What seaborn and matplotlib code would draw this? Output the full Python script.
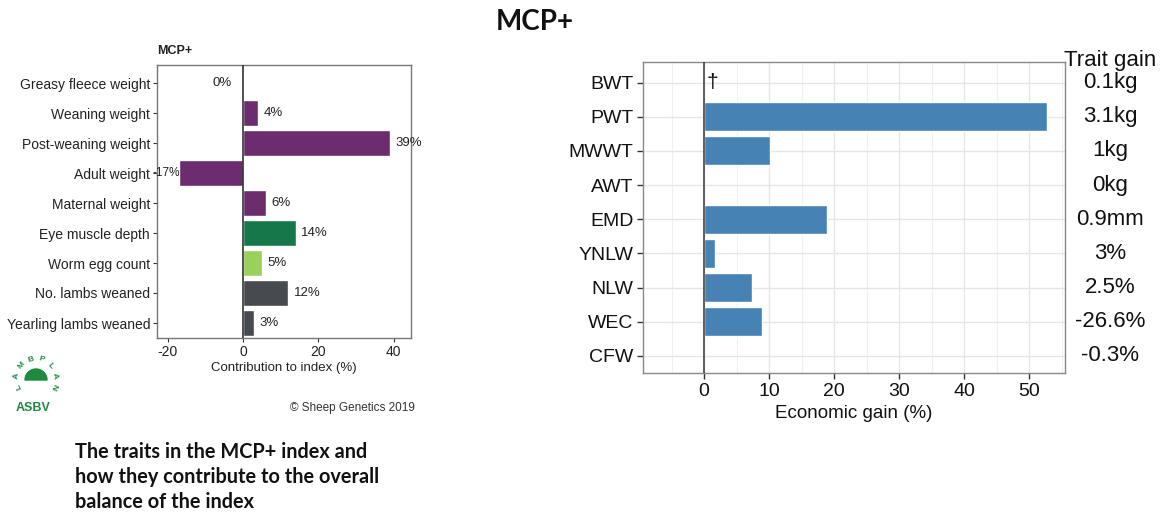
import numpy as np
import pandas as pd
import seaborn as sns
import matplotlib.pyplot as plt
from matplotlib.patches import Wedge

# left panel: contribution of each trait to the MCP+ index (%)
traits = ["Greasy fleece weight", "Weaning weight", "Post-weaning weight", "Adult weight",
          "Maternal weight", "Eye muscle depth", "Worm egg count", "No. lambs weaned",
          "Yearling lambs weaned"]
contrib = [0, 4, 39, -17, 6, 14, 5, 12, 3]
contrib_labels = ["0%", "4%", "39%", "-17%", "6%", "14%", "5%", "12%", "3%"]
trait_colors = ["#9C6B98", "#6B2D6E", "#6B2D6E", "#6B2D6E", "#6B2D6E",
                "#16774A", "#9BCF5E", "#474B4F", "#474B4F"]

# right panel: economic gain (%) and trait gain
abbrevs = ["BWT", "PWT", "MWWT", "AWT", "EMD", "YNLW", "NLW", "WEC", "CFW"]
econ_gain = [0, 52.7, 10.1, 0, 18.9, 1.7, 7.3, 8.9, 0]
trait_gain = ["0.1kg", "3.1kg", "1kg", "0kg", "0.9mm", "3%", "2.5%", "-26.6%", "-0.3%"]

sns.set_theme(style="white")
plt.rcParams['font.family'] = ['Liberation Sans', 'DejaVu Sans']
plt.rcParams['axes.unicode_minus'] = False

W, H = 1161, 513
fig = plt.figure(figsize=(W / 100, H / 100), dpi=100)

def px_axes(x0, y0, x1, y1):
    return fig.add_axes([x0 / W, 1 - y1 / H, (x1 - x0) / W, (y1 - y0) / H])

# ---- left chart
ax1 = px_axes(157, 65, 411, 338)
df1 = pd.DataFrame({"trait": traits, "value": contrib})
sns.barplot(data=df1, x="value", y="trait", hue="trait", palette=dict(zip(traits, trait_colors)),
            legend=False, orient="h", width=0.87, ax=ax1, saturation=1)
ax1.axvline(0, color="#333333", lw=1.2, zorder=3)
ax1.set_xlim(-22.8, 44.6)
ax1.set_ylim(8.5, -0.6)
ax1.set_xticks([-20, 0, 20, 40])
ax1.set_xlabel("Contribution to index (%)", fontsize=9.5, color="#222222", labelpad=2)
ax1.set_ylabel("")
ax1.tick_params(axis="both", bottom=True, left=True, length=3, width=0.8, color="#333333",
                labelsize=10, labelcolor="#222222", pad=2)
for s in ax1.spines.values():
    s.set_color("#777777")
    s.set_linewidth(1)
for i, (v, lab) in enumerate(zip(contrib, contrib_labels)):
    if v > 0:
        ax1.text(v + 1.5, i, lab, ha="left", va="center", fontsize=9.5, color="#222222")
    elif v < 0:
        ax1.text(v + 0.2, i, lab, ha="right", va="center", fontsize=8.5, color="#222222")
    else:
        ax1.text(-3, i, lab, ha="right", va="center", fontsize=9.5, color="#222222")
ax1.text(0, 1.03, "MCP+", transform=ax1.transAxes, ha="left", va="bottom",
         fontsize=9, fontweight="bold", color="#222222")

# ---- right chart
ax2 = px_axes(643, 62, 1065, 373)
sns.barplot(x=econ_gain, y=abbrevs, orient="h", color="#4682B4", saturation=1,
            width=0.85, ax=ax2, zorder=2)
ax2.set_xlim(-9.4, 55.5)
ax2.set_ylim(8.5, -0.6)
ax2.set_xticks([0, 10, 20, 30, 40, 50])
ax2.set_xticks(np.arange(-5, 56, 10), minor=True)
ax2.grid(True, which="major", color="#E6E6E6", lw=1)
ax2.grid(True, which="minor", axis="x", color="#F0F0F0", lw=0.8)
ax2.set_axisbelow(True)
ax2.axvline(0, color="#333333", lw=1.1, zorder=3)
ax2.tick_params(axis="both", which="major", bottom=True, left=True, length=4, width=1,
                color="#333333", labelsize=14, labelcolor="#111111", pad=3)
ax2.tick_params(axis="x", which="minor", bottom=False)
ax2.set_xlabel("Economic gain (%)", fontsize=13.5, color="#111111", labelpad=4)
ax2.set_ylabel("")
for s in ax2.spines.values():
    s.set_color("#888888")
    s.set_linewidth(1)
ax2.text(0.4, 0, "\u2020", ha="left", va="center", fontsize=15, color="#111111")

tr = ax2.get_yaxis_transform()
for i, g in enumerate(trait_gain):
    ax2.text(1.107, i, g, transform=tr, ha="center", va="center", fontsize=16, color="#111111")
ax2.text(1.107, -0.65, "Trait gain", transform=tr, ha="center", va="center",
         fontsize=16, color="#111111")

# ---- titles and footer text
fig.text(535 / W, 1 - 22 / H, "MCP+", ha="center", va="center", fontsize=20,
         fontweight="bold", family=["Lato", "DejaVu Sans"], color="#111111")
fig.text(75 / W, 1 - 442 / H,
         "The traits in the MCP+ index and\nhow they contribute to the overall\nbalance of the index",
         ha="left", va="top", fontsize=14.3, fontweight="bold", linespacing=1.3,
         family=["Lato", "DejaVu Sans"], color="#111111")
fig.text(415 / W, 1 - 408 / H, "\u00a9 Sheep Genetics 2019", ha="right", va="center",
         fontsize=8.5, color="#333333")

# lambplan logo approximation
green = "#1E8A3C"
cx, cy, r = 36 / W, 1 - 378 / H, 19
for k, ch in enumerate("LAMBPLAN"):
    ang = np.deg2rad(205 - k * (230 / 7))
    x = cx + r * np.cos(ang) / W
    y = cy + r * np.sin(ang) / H
    fig.text(x, y, ch, ha="center", va="center", fontsize=6, fontweight="bold",
             color=green, rotation=np.rad2deg(ang) - 90)
fig.patches.append(Wedge((cx * W, cy * H - 2), 11, 0, 180, color=green,
                         transform=None, figure=fig))
fig.text(33 / W, 1 - 408 / H, "ASBV", ha="center", va="center", fontsize=9,
         fontweight="bold", color=green)

fig.savefig("out.png", dpi=100)
